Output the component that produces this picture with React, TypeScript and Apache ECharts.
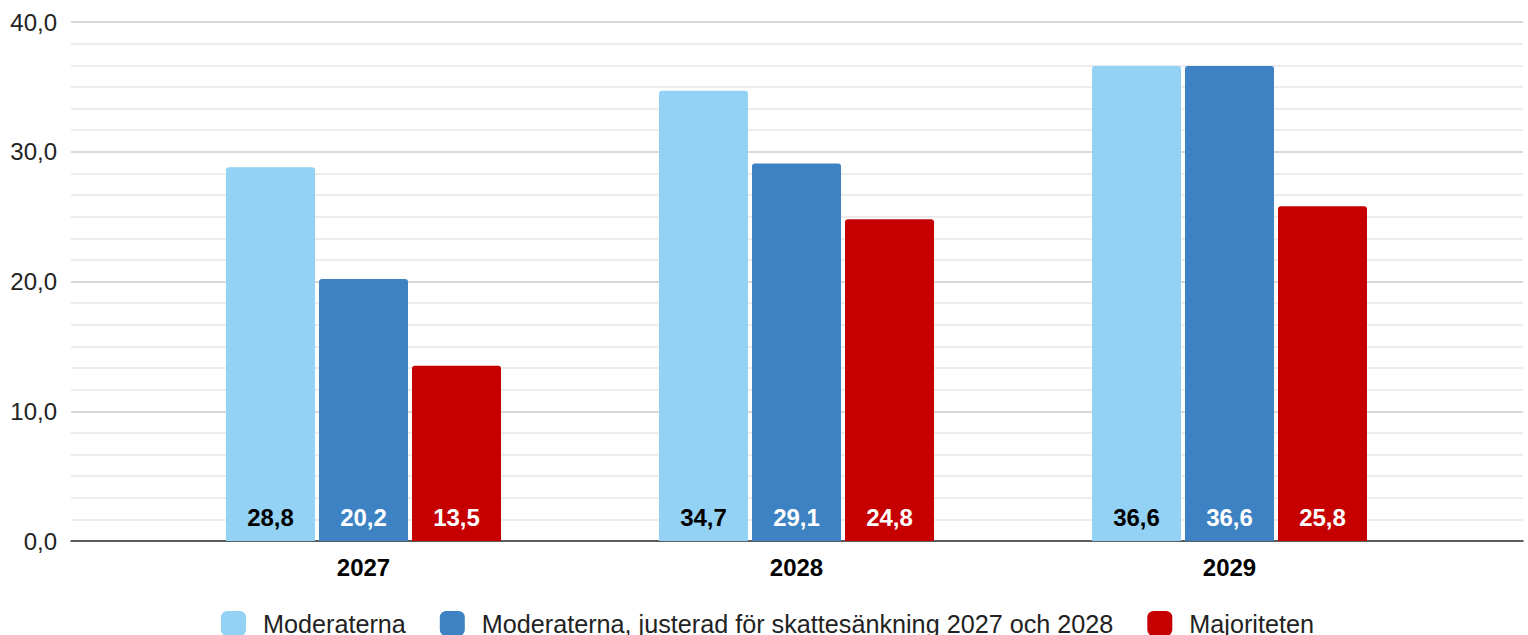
import React, { useEffect, useRef } from "react";
import * as echarts from "echarts";

const categories = ["2027", "2028", "2029"];
const seriesNames = [
  "Moderaterna",
  "Moderaterna, justerad för skattesänkning 2027 och 2028",
  "Majoriteten",
];
const moderaterna = [28.8, 34.7, 36.6];
const moderaternaJusterad = [20.2, 29.1, 36.6];
const majoriteten = [13.5, 24.8, 25.8];
const colors = ["#93D2F4", "#3D82C3", "#C60000"];
const labelColors = ["#000000", "#FFFFFF", "#FFFFFF"];

const fmt = (v: number) => v.toFixed(1).replace(".", ",");
const FONT = "Liberation Sans, Arial, sans-serif";

export default function App() {
  const ref = useRef<HTMLDivElement>(null);
  useEffect(() => {
    if (!ref.current) return;
    const chart = echarts.init(ref.current, undefined, { renderer: "svg" });
    const data = [moderaterna, moderaternaJusterad, majoriteten];
    chart.setOption({
      animation: false,
      textStyle: { fontFamily: FONT },
      legend: {
        left: 221,
        top: 611,
        padding: 0,
        icon: "roundRect",
        itemWidth: 25,
        itemHeight: 25,
        itemGap: 34,
        textStyle: { fontSize: 25.2, color: "#222", fontFamily: FONT, padding: [0, 0, 0, 12] },
        data: seriesNames,
      },
      grid: [
        { left: 71, right: 5, top: 22, bottom: 94 },
        { left: 147, right: 82, top: 22, bottom: 94 },
      ],
      xAxis: [
        {
          gridIndex: 0,
          type: "value",
          min: 0,
          max: 1,
          axisLine: { show: true, onZero: false, lineStyle: { color: "#333", width: 1.5 } },
          axisTick: { show: false },
          axisLabel: { show: false },
          splitLine: { show: false },
        },
        {
          gridIndex: 1,
          type: "category",
          data: categories,
          axisLine: { show: false },
          axisTick: { show: false },
          axisLabel: {
            margin: 14,
            fontSize: 24,
            fontWeight: "bold",
            color: "#000",
            fontFamily: FONT,
          },
        },
      ],
      yAxis: [
        {
          gridIndex: 0,
          type: "value",
          min: 0,
          max: 40,
          interval: 10,
          axisLine: { show: false },
          axisTick: { show: false },
          axisLabel: {
            margin: 14,
            fontSize: 24,
            color: "#222",
            fontFamily: FONT,
            formatter: (v: number) => fmt(v),
          },
          splitLine: { show: true, lineStyle: { color: "#cccccc", width: 1.5 } },
          minorTick: { show: false, splitNumber: 6 },
          minorSplitLine: { show: true, lineStyle: { color: "#e6e6e6", width: 1.5 } },
        },
        {
          gridIndex: 1,
          type: "value",
          min: 0,
          max: 40,
          interval: 10,
          show: false,
          splitLine: { show: false },
        },
      ],
      series: seriesNames.map((name, i) => ({
        name,
        type: "bar",
        xAxisIndex: 1,
        yAxisIndex: 1,
        data: data[i],
        barWidth: 89,
        barGap: "4.5%",
        itemStyle: { color: colors[i], borderRadius: [3, 3, 0, 0] },
        label: {
          show: true,
          position: "insideBottom",
          distance: 12,
          fontSize: 24,
          fontWeight: "bold",
          color: labelColors[i],
          fontFamily: FONT,
          formatter: (p: any) => fmt(p.value),
        },
      })),
    });
    return () => chart.dispose();
  }, []);
  return (
    <div
      ref={ref}
      style={{ position: "fixed", left: 0, top: 0, width: 1528, height: 635, background: "#fff" }}
    />
  );
}
